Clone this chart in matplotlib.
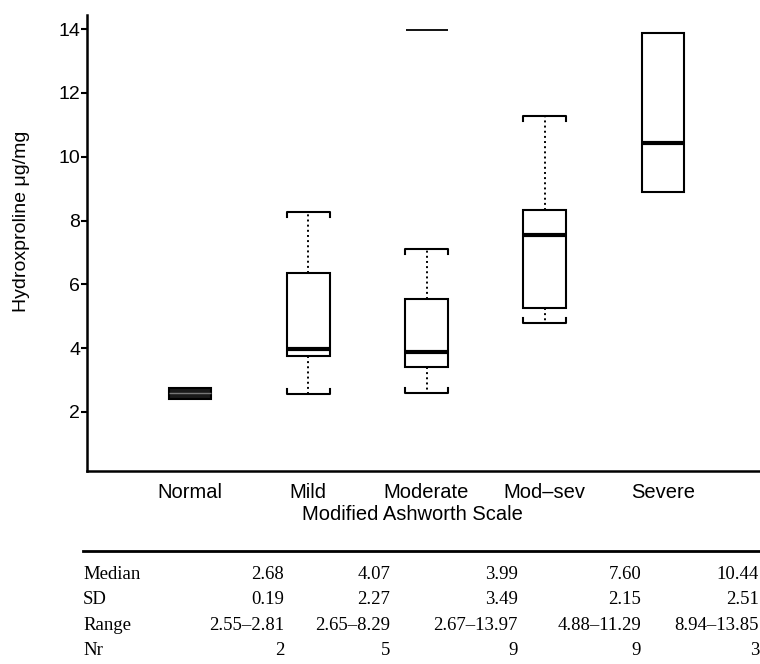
import matplotlib
matplotlib.use("Agg")
import matplotlib.pyplot as plt
from matplotlib.lines import Line2D

# Box plot values (Hydroxproline ug/mg)
categories = ["Normal", "Mild", "Moderate", "Mod\u2013sev", "Severe"]
q1 = [2.41, 3.75, 3.41, 5.26, 8.90]
medians = [2.58, 3.97, 3.88, 7.55, 10.43]
q3 = [2.75, 6.35, 5.54, 8.33, 13.87]
whis_lo = [2.41, 2.56, 2.60, 4.79, 8.90]
whis_hi = [2.75, 8.27, 7.10, 11.27, 13.87]
outliers = [[], [], [13.97], [], []]
y_ticks = [2, 4, 6, 8, 10, 12, 14]

# Summary table under the chart
row_names = ["Median", "SD", "Range", "Nr"]
tab_median = ["2.68", "4.07", "3.99", "7.60", "10.44"]
tab_sd = ["0.19", "2.27", "3.49", "2.15", "2.51"]
tab_range = ["2.55\u20132.81", "2.65\u20138.29", "2.67\u201313.97", "4.88\u201311.29", "8.94\u201313.85"]
tab_n = ["2", "5", "9", "9", "3"]

plt.rcParams['font.family'] = ['Liberation Sans', 'DejaVu Sans']

W, H = 760, 664
fig = plt.figure(figsize=(W / 100, H / 100), dpi=100)
ax = fig.add_axes([87 / W, 1 - 471 / H, 673 / W, 456 / H])

positions = list(range(1, len(categories) + 1))
stats = []
for i in range(len(categories)):
    stats.append(dict(label=categories[i], q1=q1[i], med=medians[i], q3=q3[i],
                      whislo=whis_lo[i], whishi=whis_hi[i], fliers=outliers[i]))

bp = ax.bxp(stats, positions=positions, widths=0.36, showcaps=False, patch_artist=True,
            boxprops=dict(facecolor='white', edgecolor='black', linewidth=1.5),
            medianprops=dict(color='black', linewidth=3, solid_capstyle='butt'),
            whiskerprops=dict(color='black', linewidth=1.4, linestyle=':'),
            flierprops=dict(marker='_', markersize=30, markeredgecolor='black',
                            markeredgewidth=1.3))

# the Normal group is so tight it prints as a dark bar
bp['boxes'][0].set_facecolor('#1a1a1a')
bp['medians'][0].set_color('#777777')
bp['medians'][0].set_linewidth(1)

# bracket shaped caps
hw = 0.18
d = 0.16
for p, lo, hi, a, b in zip(positions, whis_lo, whis_hi, q1, q3):
    if hi > b:
        ax.plot([p - hw, p - hw, p + hw, p + hw], [hi - d, hi, hi, hi - d],
                color='black', lw=1.5)
    if lo < a:
        ax.plot([p - hw, p - hw, p + hw, p + hw], [lo + d, lo, lo, lo + d],
                color='black', lw=1.5)

ax.set_xlim(0.129, 5.82)
ax.set_ylim(0.15, 14.44)
ax.set_yticks(y_ticks)
ax.set_yticklabels([str(t) for t in y_ticks])
ax.set_xticks(positions)
ax.set_xticklabels(categories)

for s in ['top', 'right']:
    ax.spines[s].set_visible(False)
for s in ['left', 'bottom']:
    ax.spines[s].set_linewidth(1.8)

ax.tick_params(axis='y', length=4, width=1.5, pad=1, labelsize=14)
ax.tick_params(axis='x', length=0, pad=9, labelsize=14.5)

ax.set_ylabel('Hydroxproline \u03bcg/mg', fontsize=14)
ax.yaxis.set_label_coords(-0.085, 0.548)
ax.set_xlabel('Modified Ashworth Scale', fontsize=14.5)
ax.xaxis.set_label_coords(0.483, -0.074)

# table
fig.add_artist(Line2D([83 / W, 1.0], [1 - 551 / H, 1 - 551 / H], lw=2, color='black',
                      transform=fig.transFigure))
rows = [tab_median, tab_sd, tab_range, tab_n]
baselines = [579, 604, 630, 655]
col_right = [284, 390, 518, 641, 759]
for name, vals, yb in zip(row_names, rows, baselines):
    fig.text(83 / W, 1 - yb / H, name, family='Liberation Serif', fontsize=13.5,
             ha='left', va='baseline')
    for v, xr in zip(vals, col_right):
        fig.text(xr / W, 1 - yb / H, v, family='Liberation Serif', fontsize=13.5,
                 ha='right', va='baseline')

fig.savefig('out.png', dpi=100)
